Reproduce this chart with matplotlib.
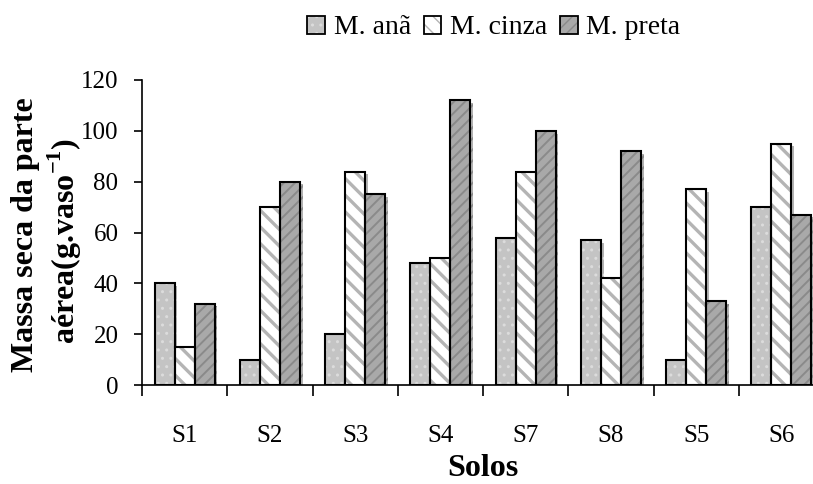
import numpy as np
import matplotlib
matplotlib.use("Agg")
import matplotlib.pyplot as plt
from matplotlib.patches import Patch
from matplotlib.legend_handler import HandlerTuple
import matplotlib.patheffects as pe

plt.rcParams["font.family"] = ["Liberation Serif", "DejaVu Serif"]
plt.rcParams["mathtext.fontset"] = "custom"
plt.rcParams["mathtext.rm"] = "Liberation Serif"
plt.rcParams["mathtext.bf"] = "Liberation Serif:bold"

# Data: dry mass of aerial part per soil
solos = ["S1", "S2", "S3", "S4", "S7", "S8", "S5", "S6"]
series_names = ["M. anã", "M. cinza", "M. preta"]
m_ana = [40, 10, 20, 48, 58, 57, 10, 70]
m_cinza = [15, 70, 84, 50, 84, 42, 77, 95]
m_preta = [32, 80, 75, 112, 100, 92, 33, 67]
y_ticks = [0, 20, 40, 60, 80, 100, 120]

# Styles per series: face, hatch, hatch colour, hatch width
styles = [
    dict(face="#c4c4c4", hatch="..", hcolor="#dcdcdc", hlw=1.0),
    dict(face="#ffffff", hatch="\\\\", hcolor="#b4b4b4", hlw=2.4),
    dict(face="#a9a9a9", hatch="///", hcolor="#8a8a8a", hlw=1.4),
]

fig = plt.figure(figsize=(8.13, 4.84), dpi=100)
ax = fig.add_axes([142 / 813, 99 / 484, 682 / 813, 305 / 484])

x = np.arange(len(solos))
width = 0.235
offsets = [-width, 0, width]
handles = []
for vals, name, st, off in zip([m_ana, m_cinza, m_preta], series_names, styles, offsets):
    with plt.rc_context({"hatch.linewidth": st["hlw"], "hatch.color": st["hcolor"]}):
        fill = ax.bar(x + off, vals, width, color=st["face"], hatch=st["hatch"],
                      edgecolor=st["hcolor"], linewidth=0, zorder=2)
        for p in fill:
            if hasattr(p, "set_hatch_linewidth"):
                p.set_hatch_linewidth(st["hlw"])
            p.set_path_effects([pe.SimplePatchShadow(offset=(2, -2), shadow_rgbFace="#808080",
                                                     alpha=0.6), pe.Normal()])
    ax.bar(x + off, vals, width, facecolor="none", edgecolor="black", linewidth=1.5, zorder=3)
    with plt.rc_context({"hatch.linewidth": st["hlw"], "hatch.color": st["hcolor"]}):
        hf = Patch(facecolor=st["face"], hatch=st["hatch"], edgecolor=st["hcolor"], linewidth=0)
        if hasattr(hf, "set_hatch_linewidth"):
            hf.set_hatch_linewidth(st["hlw"])
    ho = Patch(facecolor="none", edgecolor="black", linewidth=1.3)
    handles.append((hf, ho))

ax.set_xlim(-0.5, len(solos) - 0.5)
ax.set_ylim(0, 120)
ax.set_yticks(y_ticks)
ax.set_xticks(np.arange(-0.5, len(solos), 1.0))
ax.set_xticklabels([])
ax.set_xticks(x, labels=solos, minor=True)
ax.tick_params(axis="x", which="minor", length=0, pad=29, labelsize=18)
ax.tick_params(axis="x", which="major", length=8, width=1.2, direction="out")
ax.tick_params(axis="y", length=6, width=1.2, direction="out", labelsize=18, pad=11)
for s in ["top", "right"]:
    ax.spines[s].set_visible(False)
for s in ["left", "bottom"]:
    ax.spines[s].set_linewidth(1.2)

ax.set_xlabel("Solos", fontsize=23, fontweight="bold", labelpad=5)

fig.text(33 / 813, 1 - 235 / 484, "Massa seca da parte", rotation=90, rotation_mode="anchor",
         ha="center", va="baseline", fontsize=23, fontweight="bold")
fig.text(75 / 813, 1 - 241 / 484, "aérea(g.vaso$^{\\mathbf{-1}}$)", rotation=90,
         rotation_mode="anchor", ha="center", va="baseline", fontsize=23, fontweight="bold")

fig.legend(handles, series_names, loc="center", bbox_to_anchor=(494 / 813, 1 - 28 / 484),
           ncol=3, frameon=False, fontsize=20, handlelength=0.62, handleheight=0.62,
           handletextpad=0.32, columnspacing=0.47, borderpad=0,
           handler_map={tuple: HandlerTuple(ndivide=1)})

fig.savefig("out.png", dpi=100)
